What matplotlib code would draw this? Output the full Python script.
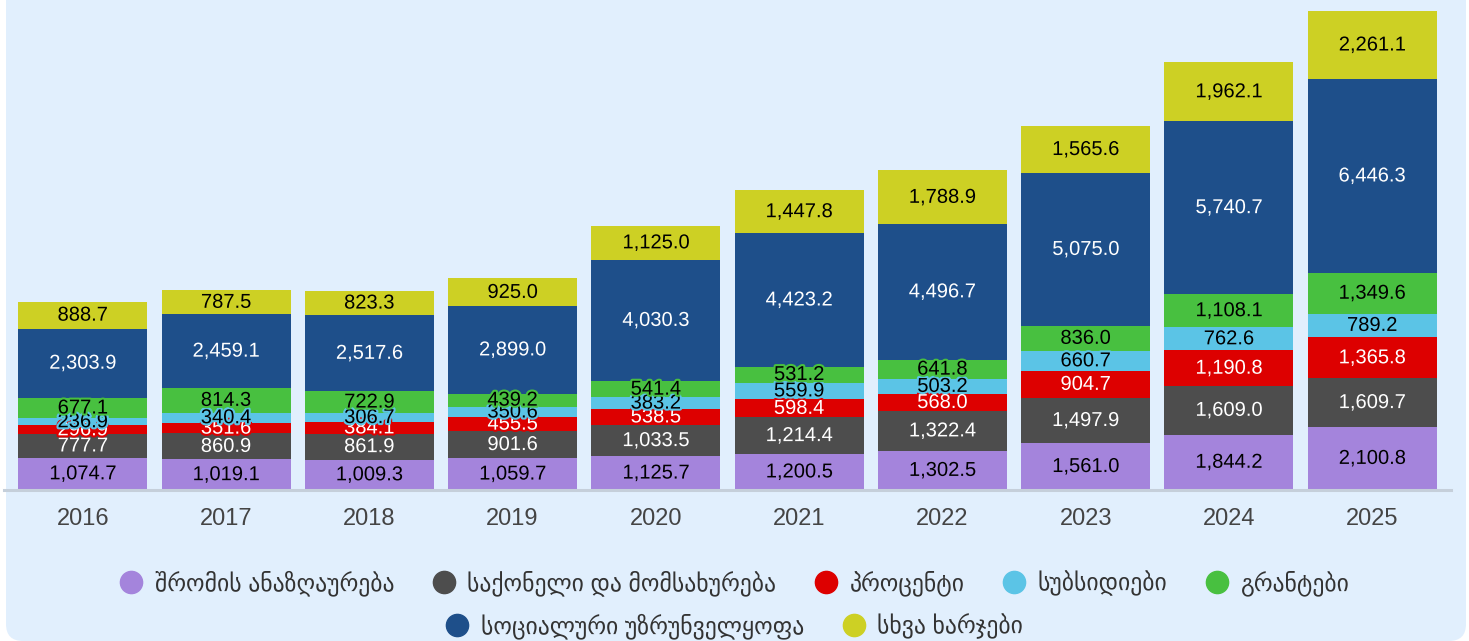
import matplotlib
matplotlib.use("Agg")
import matplotlib.pyplot as plt
import matplotlib.patheffects as pe
from matplotlib.patches import FancyBboxPatch
from matplotlib.lines import Line2D
import numpy as np

plt.rcParams['font.family'] = ['Liberation Sans', 'DejaVu Sans']

years = ['2016', '2017', '2018', '2019', '2020', '2021', '2022', '2023', '2024', '2025']
series_names = ['შრომის ანაზღაურება', 'საქონელი და მომსახურება', 'პროცენტი',
                'სუბსიდიები', 'გრანტები', 'სოციალური უზრუნველყოფა', 'სხვა ხარჯები']
wages = [1074.7, 1019.1, 1009.3, 1059.7, 1125.7, 1200.5, 1302.5, 1561.0, 1844.2, 2100.8]
goods = [777.7, 860.9, 861.9, 901.6, 1033.5, 1214.4, 1322.4, 1497.9, 1609.0, 1609.7]
interest = [296.9, 351.6, 384.1, 455.5, 538.5, 598.4, 568.0, 904.7, 1190.8, 1365.8]
subsidies = [236.9, 340.4, 306.7, 350.6, 383.2, 559.9, 503.2, 660.7, 762.6, 789.2]
grants = [677.1, 814.3, 722.9, 439.2, 541.4, 531.2, 641.8, 836.0, 1108.1, 1349.6]
social = [2303.9, 2459.1, 2517.6, 2899.0, 4030.3, 4423.2, 4496.7, 5075.0, 5740.7, 6446.3]
other = [888.7, 787.5, 823.3, 925.0, 1125.0, 1447.8, 1788.9, 1565.6, 1962.1, 2261.1]

colors = ['#A484DC', '#4D4D4D', '#DD0000', '#5BC4E6', '#48C040', '#1E4F8A', '#CDD024']
text_colors = ['black', 'white', 'white', 'black', 'black', 'white', 'black']
data = [wages, goods, interest, subsidies, grants, social, other]

fig = plt.figure(figsize=(14.69, 6.41), dpi=100)
fig.patch.set_facecolor('white')

# light blue panel, rounded bottom corners (top runs off the figure)
panel = FancyBboxPatch((0.06, 0.0), 14.60, 8.0,
                       boxstyle="round,pad=0,rounding_size=0.17",
                       transform=fig.dpi_scale_trans, facecolor='#E1EFFD',
                       edgecolor='none', zorder=-5)
fig.patches.append(panel)

ax = fig.add_axes([4 / 1469, (641 - 490) / 641, (1451 - 4) / 1469, 490 / 641])
ax.patch.set_alpha(0)

x = np.arange(len(years))
bottom = np.zeros(len(years))
for vals, col, tcol in zip(data, colors, text_colors):
    vals = np.array(vals)
    ax.bar(x, vals, 0.9, bottom=bottom, color=col, zorder=2)
    for xi, b, v in zip(x, bottom, vals):
        ax.text(xi, b + v / 2, f"{v:,.1f}", ha='center', va='center', fontsize=14.5,
                color=tcol, zorder=3,
                path_effects=[pe.withStroke(linewidth=3, foreground=col)])
    bottom += vals

ax.set_xlim(-0.55, 9.55)
ax.set_ylim(0, 16288)
ax.set_yticks([])
ax.set_xticks(x)
ax.set_xticklabels(years, fontsize=17, color='#444444')
ax.tick_params(axis='x', length=0, pad=13)
for s in ['top', 'right', 'left']:
    ax.spines[s].set_visible(False)
ax.spines['bottom'].set_color('#C5CFDA')
ax.spines['bottom'].set_linewidth(2.2)
ax.spines['bottom'].set_zorder(4)

handles = [Line2D([], [], marker='o', linestyle='none', markersize=16,
                  markerfacecolor=c, markeredgecolor=c) for c in colors]
leg_kw = dict(loc='center', frameon=False, fontsize=17, handlelength=1.0,
              handletextpad=0.5, columnspacing=1.6, labelcolor='#333333')
fig.legend(handles[:5], series_names[:5], ncol=5,
           bbox_to_anchor=(0.5, 1 - 583 / 641), **leg_kw)
fig.legend(handles[5:], series_names[5:], ncol=2,
           bbox_to_anchor=(0.5, 1 - 626 / 641), **leg_kw)

fig.savefig('out.png', dpi=100, facecolor='white')
